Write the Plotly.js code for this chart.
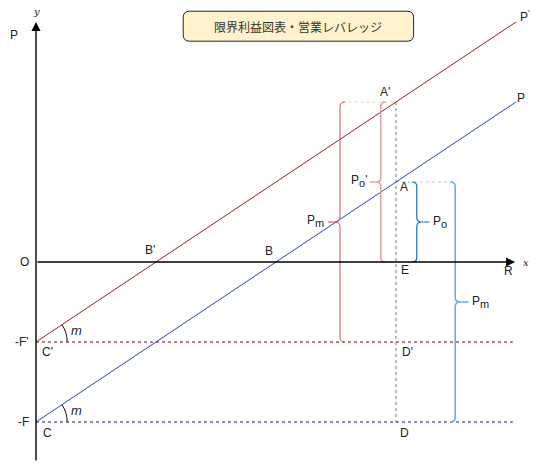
<!DOCTYPE html>
<html>
<head>
<meta charset="utf-8">
<script src="https://cdn.plot.ly/plotly-3.0.1.min.js"></script>
<style>
  html, body { margin: 0; padding: 0; background: #fff; }
  #chart { width: 547px; height: 470px; }
</style>
</head>
<body>
<div id="chart"></div>
<script>
// values (1 unit = 8 px)
const F = 20          // fixed cost, case 1
const Fp = 10         // fixed cost, case 2 (F')
const m = 2 / 3       // marginal profit ratio (slope)
const RE = 45         // sales at E
const Rmax = 60       // right end of the lines
const lineX = [0, 60]
const profitP = [-20, 20]    // C -> P
const profitPp = [-10, 30]   // C' -> P'
const pointA = 10
const pointAp = 20
const breakB = 30
const breakBp = 15

const txt = "#222"
const sans = "Liberation Sans, Arial, sans-serif"

function brace(x, top, bot, dir, tipX, color, width) {
  const d = 0.6
  const mid = (top + bot) / 2
  const p =
    `M ${x - dir * d},${top} Q ${x},${top} ${x},${top - d} ` +
    `L ${x},${mid + d} Q ${x},${mid} ${x + dir * d},${mid} ` +
    `Q ${x},${mid} ${x},${mid - d} L ${x},${bot + d} ` +
    `Q ${x},${bot} ${x - dir * d},${bot} ` +
    `M ${x + dir * d},${mid} L ${tipX},${mid}`
  return { type: "path", xref: "x", yref: "y", path: p, line: { color: color, width: width } }
}

function arc(cy, r) {
  const th = Math.atan(m)
  const k = (4 / 3) * Math.tan(th / 4)
  const c = Math.cos(th), s = Math.sin(th)
  const p =
    `M ${r},${cy} C ${r},${cy + k * r} ${r * (c + k * s)},${cy + r * (s - k * c)} ` +
    `${r * c},${cy + r * s}`
  return { type: "path", xref: "x", yref: "y", path: p, line: { color: "#111", width: 1 } }
}

function roundBox(x0, y0, x1, y1, r) {
  const p =
    `M ${x0 + r},${y0} L ${x1 - r},${y0} Q ${x1},${y0} ${x1},${y0 - r} ` +
    `L ${x1},${y1 + r} Q ${x1},${y1} ${x1 - r},${y1} L ${x0 + r},${y1} ` +
    `Q ${x0},${y1} ${x0},${y1 + r} L ${x0},${y0 - r} Q ${x0},${y0} ${x0 + r},${y0} Z`
  return { type: "path", xref: "x", yref: "y", path: p, fillcolor: "#fff2cc", line: { color: "#222", width: 1 } }
}

function seg(x, y, color, dash, width) {
  return {
    x: x, y: y, mode: "lines", type: "scatter", hoverinfo: "skip",
    line: { color: color, width: width || 1, dash: dash || "solid" },
  }
}

const data = [
  seg([0, 59.6], [-Fp, -Fp], "#660a0a", "3px,3px"),
  seg([0, 59.6], [-F, -F], "#10109e", "3px,3px"),
  seg([RE, RE], [pointAp, -F], "#777", "3px,3px"),
  seg([38.3, RE], [pointAp, pointAp], "#ead6a6", "3px,3px"),
  seg([RE, 52.4], [pointA, pointA], "#aecbe2", "3px,3px"),
  seg(lineX, profitPp, "#931e1e"),
  seg(lineX, profitP, "#2b3fd8"),
]

function lab(x, y, text, opts) {
  return Object.assign({
    x: x, y: y, xref: "x", yref: "y", text: text, showarrow: false,
    font: { family: sans, size: 12, color: txt },
  }, opts || {})
}

const sub = (s) => `<sub><span style="font-size:11px">${s}</span></sub>`

const annotations = [
  // axes with arrow heads
  { x: 0, y: 30, ax: 0, ay: -25, xref: "x", yref: "y", axref: "x", ayref: "y",
    text: "", showarrow: true, arrowhead: 2, arrowsize: 1.3, arrowwidth: 1.4, arrowcolor: "#000", standoff: 0 },
  { x: 59.9, y: 0, ax: 0, ay: 0, xref: "x", yref: "y", axref: "x", ayref: "y",
    text: "", showarrow: true, arrowhead: 2, arrowsize: 1.3, arrowwidth: 1.4, arrowcolor: "#000", standoff: 0 },
  lab(0.1, 31.3, "y", { font: { family: "DejaVu Serif, serif", size: 10, color: txt, style: "italic" } }),
  lab(61.2, 0, "x", { font: { family: "DejaVu Serif, serif", size: 10, color: txt, style: "italic" } }),
  lab(-2.75, 28.4, "P"),
  lab(-1.4, 0, "O"),
  lab(-0.6, -Fp, "-F'", { xanchor: "right" }),
  lab(-0.6, -F, "-F", { xanchor: "right" }),
  lab(1.4, -Fp - 1.3, "C'"),
  lab(1.4, -F - 1.4, "C"),
  lab(breakBp - 0.7, 1.5, "B'"),
  lab(breakB - 0.9, 1.4, "B"),
  lab(43.6, pointAp + 1.2, "A'"),
  lab(RE + 1.0, pointA - 0.6, "A"),
  lab(RE + 1.1, -1.0, "E"),
  lab(RE + 1.4, -Fp - 1.3, "D'"),
  lab(RE + 1.1, -F - 1.4, "D"),
  lab(59, -1.1, "R"),
  lab(Rmax + 1.1, 30.8, "P<sup>'</sup>"),
  lab(Rmax + 0.6, 20.5, "P"),
  lab(5.1, -Fp + 1.5, "m", { font: { family: sans, size: 13, color: txt, style: "italic" } }),
  lab(5.1, -F + 1.5, "m", { font: { family: sans, size: 13, color: txt, style: "italic" } }),
  lab(36.2, 5.1, "P" + sub("m"), { xanchor: "right" }),
  lab(41.6, 10.1, "P" + sub("o") + "'", { xanchor: "right" }),
  lab(49.4, 5, "P" + sub("o"), { xanchor: "left" }),
  lab(54.3, -5, "P" + sub("m"), { xanchor: "left" }),
  lab(32.8, 29.45, "限界利益図表・営業レバレッジ",
    { font: { family: "Noto Sans CJK JP, sans-serif", size: 12, color: "#333" } }),
]

const shapes = [
  brace(38, pointAp, -Fp, -1, 36.5, "#b85450", 1),
  brace(43.1, pointAp, 0, -1, 41.7, "#e3a2a2", 1.6),
  brace(47.6, pointA, 0, 1, 49.2, "#1b6fb0", 1.2),
  brace(52.4, pointA, -F, 1, 54.1, "#67b1df", 1.6),
  arc(-Fp, 3.9),
  arc(-F, 3.9),
  roundBox(18.4, 31.35, 47.2, 27.6, 0.8),
]

const layout = {
  width: 547,
  height: 470,
  margin: { l: 0, r: 0, t: 0, b: 0 },
  paper_bgcolor: "#fff",
  plot_bgcolor: "#fff",
  showlegend: false,
  xaxis: { range: [-4.5, 63.875], visible: false, fixedrange: true },
  yaxis: { range: [-26, 32.75], visible: false, fixedrange: true },
  annotations: annotations,
  shapes: shapes,
}

Plotly.newPlot("chart", data, layout, { displayModeBar: false, staticPlot: true })
</script>
</body>
</html>
